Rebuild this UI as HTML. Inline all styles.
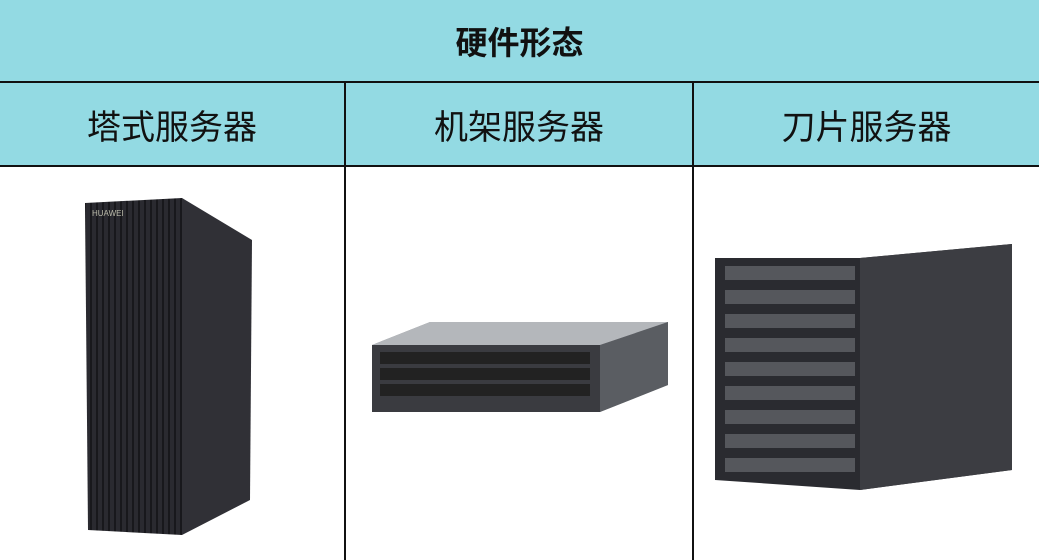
<!DOCTYPE html>
<html><head><meta charset="utf-8"><style>
body{margin:0;width:1039px;height:560px;overflow:hidden;background:#fff;font-family:"Liberation Sans","Noto Sans CJK SC",sans-serif;position:relative}
.a{position:absolute}
.t{background:#93dae3}
.c{display:flex;align-items:center;justify-content:center;font-size:34px;color:#111}
</style></head><body>
<div class="a t c" style="left:0;top:0;width:1039px;height:82px;font-weight:bold;font-size:32px">硬件形态</div>
<div class="a" style="left:0;top:81px;width:1039px;height:2px;background:#111"></div>
<div class="a t c" style="left:0;top:83px;width:344px;height:83px">塔式服务器</div>
<div class="a t c" style="left:346px;top:83px;width:346px;height:83px">机架服务器</div>
<div class="a t c" style="left:694px;top:83px;width:345px;height:83px">刀片服务器</div>
<div class="a" style="left:0;top:165px;width:1039px;height:2px;background:#111"></div>
<div class="a" style="left:344px;top:83px;width:2px;height:477px;background:#111"></div>
<div class="a" style="left:692px;top:83px;width:2px;height:477px;background:#111"></div>
<svg class="a" style="left:0;top:0" width="1039" height="560">
<defs><pattern id="st" width="6" height="10" patternUnits="userSpaceOnUse"><rect width="6" height="10" fill="#2a2a30"/><rect width="2" height="10" fill="#18181c"/></pattern></defs>
<polygon points="85,203 182,198 182,535 88,530" fill="url(#st)"/>
<polygon points="182,198 252,240 250,500 182,535" fill="#303036"/>
<text x="92" y="216" font-size="8" fill="#bba" font-family="Liberation Sans">HUAWEI</text>
<polygon points="372,345 430,322 668,322 668,385 600,412 372,412" fill="#8a8d92"/>
<polygon points="430,322 668,322 600,345 372,345" fill="#b4b7bb"/>
<rect x="372" y="345" width="228" height="67" fill="#3a3b40"/>
<g fill="#222">
<rect x="380" y="352" width="210" height="12"/><rect x="380" y="368" width="210" height="12"/><rect x="380" y="384" width="210" height="12"/>
</g>
<polygon points="600,345 668,322 668,385 600,412" fill="#5a5d62"/>
<polygon points="715,258 860,258 1012,244 1012,470 860,490 715,480" fill="#2a2b30"/>
<polygon points="860,258 1012,244 1012,470 860,490" fill="#3c3d42"/>
<g fill="#55575c">
<rect x="725" y="266" width="130" height="14"/><rect x="725" y="290" width="130" height="14"/><rect x="725" y="314" width="130" height="14"/><rect x="725" y="338" width="130" height="14"/><rect x="725" y="362" width="130" height="14"/><rect x="725" y="386" width="130" height="14"/><rect x="725" y="410" width="130" height="14"/><rect x="725" y="434" width="130" height="14"/><rect x="725" y="458" width="130" height="14"/>
</g>
</svg>
</body></html>
